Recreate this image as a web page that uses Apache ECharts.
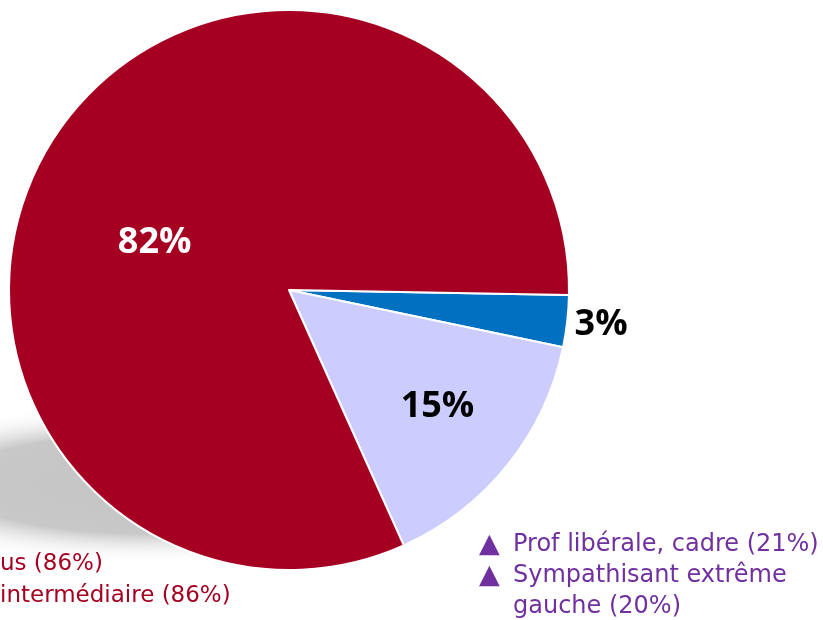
<!DOCTYPE html>
<html>
<head>
<meta charset="utf-8">
<script src="https://cdn.jsdelivr.net/npm/echarts@6/dist/echarts.min.js"></script>
<style>
  html, body { margin: 0; padding: 0; background: #fff; }
  #main { width: 823px; height: 620px; }
</style>
</head>
<body>
<div id="main"></div>
<script>
// données du camembert (ordre horaire à partir de 3h)
var sliceNames = ['Réponse 3', 'Réponse 2', 'Réponse 1'];
var sliceValues = [3, 15, 82];
var sliceColors = ['#0070C0', '#CCCCFF', '#A50021'];
var labelColors = ['#000', '#000', '#fff'];
// décalage des étiquettes par rapport à la position "inside"
var labelShift = [[170, 19], [37, 27], [-15, 31]];

// notes en bas
var notesLeft = ['us (86%)', 'intermédiaire (86%)'];
var notesRight = ['Prof libérale, cadre (21%)', 'Sympathisant extrême', 'gauche (20%)'];
var notesRightMark = [true, true, false];

var chart = echarts.init(document.getElementById('main'));

var graphics = [
  {
    // ombre portée sous le camembert
    type: 'circle',
    z: 0,
    x: 150, y: 484,
    scaleY: 0.25,
    shape: { cx: 0, cy: 0, r: 320 },
    style: {
      fill: new echarts.graphic.RadialGradient(0.5, 0.5, 0.5, [
        { offset: 0, color: '#c4c4c4' },
        { offset: 0.62, color: '#c8c8c8' },
        { offset: 1, color: 'rgba(255,255,255,0)' }
      ])
    }
  }
];

notesLeft.forEach(function (t, i) {
  graphics.push({
    type: 'text', z: 10, left: 0, top: 553 + i * 32,
    style: { text: t, fill: '#A50021', font: '23px "DejaVu Sans"' }
  });
});

notesRight.forEach(function (t, i) {
  graphics.push({
    type: 'text', z: 10, left: 513, top: 533 + i * 31,
    style: { text: t, fill: '#7030A0', font: '24px "DejaVu Sans"' }
  });
  if (notesRightMark[i]) {
    graphics.push({
      type: 'text', z: 10, left: 479, top: 531 + i * 31,
      style: { text: '▲', fill: '#7030A0', font: '27px "DejaVu Sans"' }
    });
  }
});

var option = {
  animation: false,
  graphic: graphics,
  series: [{
    type: 'pie',
    z: 5,
    center: [289, 290],
    radius: 280,
    startAngle: -1,
    clockwise: true,
    label: {
      show: true,
      position: 'inside',
      formatter: '{c}%',
      fontFamily: 'Open Sans',
      fontWeight: 'bold',
      fontSize: 36
    },
    labelLine: { show: false },
    labelLayout: function (params) {
      var s = labelShift[params.dataIndex];
      return { dx: s[0], dy: s[1] };
    },
    itemStyle: { borderColor: '#fff', borderWidth: 2 },
    emphasis: { disabled: true },
    data: sliceValues.map(function (v, i) {
      return {
        name: sliceNames[i],
        value: v,
        itemStyle: { color: sliceColors[i] },
        label: { color: labelColors[i] }
      };
    })
  }]
};

chart.setOption(option);
</script>
</body>
</html>
